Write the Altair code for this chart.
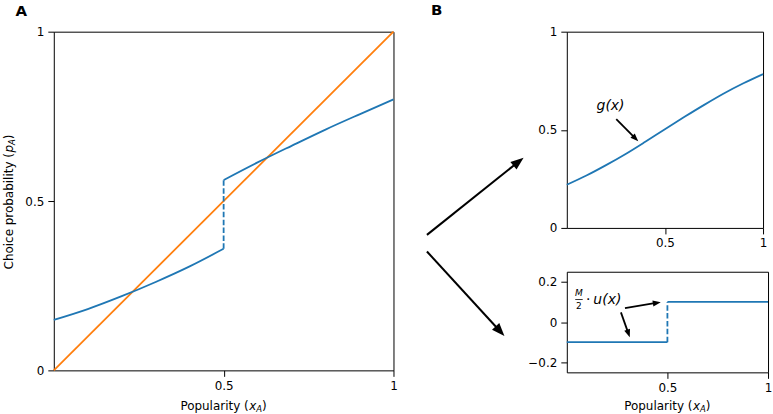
import math
import altair as alt
import pandas as pd

# ---------------- data ----------------
# Panel A: choice probability p_A as a function of popularity x_A
a_left_x = [0.0, 0.1, 0.2, 0.3, 0.4, 0.5]
a_left_y = [0.149, 0.181, 0.219, 0.261, 0.307, 0.359]
a_right_x = [0.5, 0.6, 0.7, 0.8, 0.9, 1.0]
a_right_y = [0.562, 0.614, 0.663, 0.711, 0.756, 0.800]
a_jump_x = [0.5]
a_jump_y = [0.359]
a_jump_y2 = [0.562]
diag_x = [0.0, 1.0]
diag_y = [0.0, 1.0]

# Panel B (top): g(x)
g_x = [0.0, 0.1, 0.2, 0.3, 0.4, 0.5, 0.6, 0.7, 0.8, 0.9, 1.0]
g_y = [0.220, 0.267, 0.320, 0.377, 0.439, 0.503, 0.566, 0.627, 0.685, 0.737, 0.784]

# Panel B (bottom): M/2 * u(x)
u_left_x = [0.0, 0.5]
u_left_y = [-0.1, -0.1]
u_right_x = [0.5, 1.0]
u_right_y = [0.1, 0.1]
u_jump_x = [0.5]
u_jump_y = [-0.1]
u_jump_y2 = [0.1]

# tick values
a_xticks = [0.5, 1]
a_yticks = [0, 0.5, 1]
b1_xticks = [0.5, 1]
b1_yticks = [0, 0.5, 1]
b2_xticks = [0.5, 1]
b2_yticks = [-0.2, 0, 0.2]

# arrows: start (x, y) and tip (x2, y2), in data units of the panel they sit in
mid_arrows = {"x": [1.0985, 1.0985], "y": [0.400, 0.351],
              "x2": [1.383, 1.3266], "y2": [0.628, 0.1016]}
g_arrow = {"x": [0.252], "y": [0.555], "x2": [0.364], "y2": [0.442]}
u_arrows = {"x": [0.289, 0.269], "y": [0.069, 0.048],
            "x2": [0.467, 0.313], "y2": [0.099, -0.076]}

# annotation anchors (data units)
g_label = {"x": [0.223], "y": [0.623], "t": ["g(x)"]}
u_dot = {"x": [0.107], "y": [0.111], "t": ["·"]}
u_text = {"x": [0.132], "y": [0.111], "t": ["u(x)"]}
u_num = {"x": [0.060], "y": [0.145], "t": ["M"]}
u_den = {"x": [0.060], "y": [0.080], "t": ["2"]}
u_bar = {"x": [0.042], "x2": [0.079], "y": [0.112]}

# ---------------- styling ----------------
BLUE = "#1f77b4"
ORANGE = "#ff7f0e"
FONT = "DejaVu Sans"
LW = 1.8

A_W, A_H = 341, 340
B1_W, B1_H = 197, 197
B2_W, B2_H = 202, 101

HEAD = "M0,0 L-0.38,1 L0.38,1 Z"


def axis(vals):
    return alt.Axis(values=vals, format="~g", labelFlush=False)


def arrow_df(d, xdom, ydom, W, H, head_len):
    sx = W / (xdom[1] - xdom[0])
    sy = H / (ydom[1] - ydom[0])
    rows = []
    for x, y, x2, y2 in zip(d["x"], d["y"], d["x2"], d["y2"]):
        dx = (x2 - x) * sx
        dy = -(y2 - y) * sy
        L = math.hypot(dx, dy)
        ang = math.degrees(math.atan2(dx, -dy)) % 360
        back = head_len * 0.6
        rows.append(dict(x=x, y=y,
                         xe=x2 - (dx / L * back) / sx,
                         ye=y2 + (dy / L * back) / sy,
                         tx=x2, ty=y2, angle=ang))
    return pd.DataFrame(rows)


def arrow_layers(d, xsc, ysc, xax, yax, W, H, width, head_len):
    df = arrow_df(d, xsc.domain, ysc.domain, W, H, head_len)
    rule = alt.Chart(df).mark_rule(color="black", strokeWidth=width).encode(
        x=alt.X("x:Q", scale=xsc, axis=xax, title=None),
        y=alt.Y("y:Q", scale=ysc, axis=yax, title=None),
        x2="xe:Q", y2="ye:Q")
    head = alt.Chart(df).mark_point(shape=HEAD, filled=True, color="black",
                                    opacity=1, strokeWidth=0,
                                    size=(2 * head_len) ** 2).encode(
        x=alt.X("tx:Q", scale=xsc, axis=xax, title=None),
        y=alt.Y("ty:Q", scale=ysc, axis=yax, title=None),
        angle=alt.Angle("angle:Q", scale=None))
    return [rule, head]


def txt(text, x, y, size=12, **kw):
    return alt.Chart(pd.DataFrame({"t": [text]})).mark_text(
        font=FONT, fontSize=size, color="black", **kw).encode(
        x=alt.value(x), y=alt.value(y), text="t:N")


def x_title(W, y):
    s = W / 2 - 43.4
    return [
        txt("Popularity (", s, y, align="left", baseline="middle"),
        txt("x", s + 69.1, y, align="left", baseline="middle", fontStyle="italic"),
        txt("A", s + 76.2, y + 3, size=8.5, align="left", baseline="middle", fontStyle="italic"),
        txt(")", s + 82.0, y, align="left", baseline="middle"),
    ]


def line(xs, ys, color, xsc, ysc, xax, yax):
    df = pd.DataFrame({"x": xs, "y": ys})
    return alt.Chart(df).mark_line(color=color, strokeWidth=LW, interpolate="monotone").encode(
        x=alt.X("x:Q", scale=xsc, axis=xax, title=None),
        y=alt.Y("y:Q", scale=ysc, axis=yax, title=None))


def vdash(xs, ys, y2s, xsc, ysc, xax, yax):
    df = pd.DataFrame({"x": xs, "y": ys, "y2": y2s})
    return alt.Chart(df).mark_rule(color=BLUE, strokeWidth=LW, strokeDash=[5.5, 2.4]).encode(
        x=alt.X("x:Q", scale=xsc, axis=xax, title=None),
        y=alt.Y("y:Q", scale=ysc, axis=yax, title=None),
        y2="y2:Q")


# ---------------- panel A ----------------
ax_sc = alt.Scale(domain=[0, 1], nice=False, zero=False)
ay_sc = alt.Scale(domain=[0, 1], nice=False, zero=False)
ax_ax = axis(a_xticks)
ay_ax = axis(a_yticks)

a_layers = [
    line(diag_x, diag_y, ORANGE, ax_sc, ay_sc, ax_ax, ay_ax),
    line(a_left_x, a_left_y, BLUE, ax_sc, ay_sc, ax_ax, ay_ax),
    line(a_right_x, a_right_y, BLUE, ax_sc, ay_sc, ax_ax, ay_ax),
    vdash(a_jump_x, a_jump_y, a_jump_y2, ax_sc, ay_sc, ax_ax, ay_ax),
]
a_layers += arrow_layers(mid_arrows, ax_sc, ay_sc, ax_ax, ay_ax, A_W, A_H, 2.0, 13)
a_layers += x_title(A_W, 375.3)
# rotated y title
yt_x, yt_y = -44.7, 238.7
a_layers += [
    txt("Choice probability (", yt_x, yt_y, align="left", baseline="middle", angle=270),
    txt("p", yt_x, yt_y - 117.3, align="left", baseline="middle", angle=270, fontStyle="italic"),
    txt("A", yt_x + 3, yt_y - 124.9, size=8.5, align="left", baseline="middle", angle=270, fontStyle="italic"),
    txt(")", yt_x, yt_y - 130.7, align="left", baseline="middle", angle=270),
]
a_layers += [
    txt("A", -32.7, -20.7, size=15, align="center", baseline="middle", fontWeight="bold"),
    txt("B", 384.3, -21.7, size=15, align="center", baseline="middle", fontWeight="bold"),
]
panel_a = alt.layer(*a_layers).properties(width=A_W, height=A_H)

# ---------------- panel B top ----------------
b1x_sc = alt.Scale(domain=[0, 1], nice=False, zero=False)
b1y_sc = alt.Scale(domain=[0, 1], nice=False, zero=False)
b1x_ax = axis(b1_xticks)
b1y_ax = axis(b1_yticks)
b1_layers = [line(g_x, g_y, BLUE, b1x_sc, b1y_sc, b1x_ax, b1y_ax)]
b1_layers += arrow_layers(g_arrow, b1x_sc, b1y_sc, b1x_ax, b1y_ax, B1_W, B1_H, 1.8, 8)
b1_layers.append(
    alt.Chart(pd.DataFrame(g_label)).mark_text(font=FONT, fontSize=14, fontStyle="italic",
                                               color="black", align="center", baseline="middle").encode(
        x=alt.X("x:Q", scale=b1x_sc, axis=b1x_ax, title=None),
        y=alt.Y("y:Q", scale=b1y_sc, axis=b1y_ax, title=None),
        text="t:N"))
panel_b1 = alt.layer(*b1_layers).properties(width=B1_W, height=B1_H)

# ---------------- panel B bottom ----------------
b2x_sc = alt.Scale(domain=[0, 1], nice=False, zero=False)
b2y_sc = alt.Scale(domain=[-0.25, 0.25], nice=False, zero=False)
b2x_ax = axis(b2_xticks)
b2y_ax = axis(b2_yticks)


def b2_text(d, size, style, align="left"):
    kw = dict(font=FONT, fontSize=size, color="black", align=align, baseline="middle")
    if style:
        kw["fontStyle"] = style
    return alt.Chart(pd.DataFrame(d)).mark_text(**kw).encode(
        x=alt.X("x:Q", scale=b2x_sc, axis=b2x_ax, title=None),
        y=alt.Y("y:Q", scale=b2y_sc, axis=b2y_ax, title=None),
        text="t:N")


b2_layers = [
    line(u_left_x, u_left_y, BLUE, b2x_sc, b2y_sc, b2x_ax, b2y_ax),
    line(u_right_x, u_right_y, BLUE, b2x_sc, b2y_sc, b2x_ax, b2y_ax),
    vdash(u_jump_x, u_jump_y, u_jump_y2, b2x_sc, b2y_sc, b2x_ax, b2y_ax),
]
b2_layers += arrow_layers(u_arrows, b2x_sc, b2y_sc, b2x_ax, b2y_ax, B2_W, B2_H, 1.8, 8)
b2_layers += [
    b2_text(u_num, 9, "italic", "center"),
    b2_text(u_den, 9, None, "center"),
    b2_text(u_dot, 14, None, "center"),
    b2_text(u_text, 14, "italic"),
    alt.Chart(pd.DataFrame(u_bar)).mark_rule(color="black", strokeWidth=0.8).encode(
        x=alt.X("x:Q", scale=b2x_sc, axis=b2x_ax, title=None),
        x2="x2:Q",
        y=alt.Y("y:Q", scale=b2y_sc, axis=b2y_ax, title=None)),
]
b2_layers += x_title(B2_W, 134.3)
panel_b2 = alt.layer(*b2_layers).properties(width=B2_W, height=B2_H)

right = alt.vconcat(panel_b1, panel_b2, spacing=21)

chart = alt.hconcat(panel_a, right, spacing=2).properties(
    padding={"left": 2, "top": 1, "right": 0, "bottom": 0}
).configure_view(
    stroke="black", strokeWidth=1
).configure_axis(
    domain=False, grid=False, tickColor="black", tickSize=6, tickWidth=1,
    labelColor="black", labelFont=FONT, labelFontSize=12, labelPadding=4
)

chart.save("out.html", embed_options={"renderer": "svg", "actions": False})
